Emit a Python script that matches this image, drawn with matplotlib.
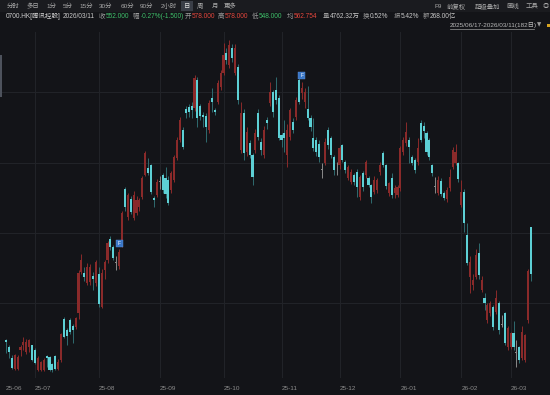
import matplotlib
matplotlib.use("Agg")
import matplotlib.pyplot as plt
from matplotlib.patches import Rectangle
from matplotlib.transforms import blended_transform_factory

plt.rcParams['font.family'] = ['Liberation Sans', 'Noto Sans CJK SC', 'DejaVu Sans']

# 0700.HK daily bars, 2025/06/17 - 2026/03/11 (182 days)
opens = [515.5, 511.5, 505.5, 499.5, 499.5, 510, 512.5, 509, 511.5, 512.5,
         510, 499, 499, 499, 506.5, 506, 502, 506.5, 499.5, 504.5,
         527, 521, 526.5, 523.5, 522.5, 530.5, 553, 552.5, 547, 547.5,
         551, 547, 552, 534, 554.2, 559.7, 571.3, 566.9, 558, 556.4,
         569.5, 599, 583.5, 593.5, 583, 586, 589, 594.6, 606.7, 610.6,
         612.3, 594, 595.7, 603, 606.7, 605, 604, 598.4, 604, 616.1,
         626.1, 631.6, 643, 644.3, 645, 643.8, 659, 644.9, 640, 639.4,
         631.6, 649.3, 642.7, 647.1, 655.4, 663.1, 674.2, 667.6, 677, 663.1,
         666.4, 620.6, 641, 619.4, 624.4, 617.8, 620.6, 641, 625, 617.8,
         637.1, 646.5, 652.6, 653.7, 649.3, 628.8, 629.9, 617.8, 627.7, 636,
         638.8, 659.3, 652.1, 647.1, 643.2, 638.2, 627.2, 626.1, 624, 609.5,
         613.4, 631.6, 627.2, 616.7, 612, 612.3, 623.3, 613.9, 605.1, 602.9,
         606.7, 608.4, 594.6, 607.8, 606.7, 605.1, 601.2, 597.3, 598.4, 608.4,
         618.9, 612.3, 596.8, 605.1, 596.8, 595.7, 599.5, 619.4, 624.4, 626.1,
         616.7, 615, 613.9, 635.5, 633.8, 629.9, 626.1, 612.3, 600, 596.8,
         603.5, 596.8, 593.5, 599.5, 611.2, 613.4, 613.4, 590.1, 597.3, 573.5,
         550.3, 545.9, 550.3, 563.6, 543.1, 538.7, 526.5, 530.4, 533.8, 531,
         536, 524, 530.4, 511.6, 511.6, 519.4, 508.3, 511.6, 505.5, 504.4,
         526.5, 578]
highs = [516, 512.5, 507, 507.5, 507, 513, 517, 516, 516, 513,
         511, 506.5, 504, 505.5, 507, 506.5, 503, 507, 505, 519.5,
         528, 522, 527.5, 524.5, 528.5, 554, 563, 556, 558, 557.5,
         553, 560, 556, 555, 560, 570, 573, 568, 562, 566,
         587, 600, 597, 595, 598, 595, 594, 606, 620, 616,
         613, 595, 604.5, 606, 608, 611, 606, 609, 618, 628,
         639, 633, 645, 646, 647, 662, 661, 646, 641.5, 641,
         648, 655, 644, 659, 665, 679.7, 677, 681.5, 679, 679,
         668, 647, 643, 633, 626, 619, 632, 643, 627, 634,
         639, 658, 654, 661, 651, 630, 637, 635, 644, 638,
         650, 661, 658, 655, 656, 640, 638, 628, 626, 613.4,
         627, 633, 628.5, 618, 614, 623, 624, 615, 612.5, 610,
         608, 610, 607, 609, 615, 606, 602, 606, 605, 614,
         620, 613, 603, 608, 601, 601, 623, 628, 636, 628,
         618, 616, 627, 637, 636, 631, 627, 613, 605.6, 606,
         605, 598, 600, 610, 622, 624, 614, 604, 599, 580,
         562, 552, 566, 569, 551, 541.5, 536, 537, 535, 543,
         537, 529.3, 531, 523, 520, 526, 515.5, 512, 523, 519,
         554.5, 578]
lows = [508.5, 505.5, 499.5, 499, 499, 506.5, 510, 508, 509, 504,
        502, 498.5, 498.5, 498.5, 500.5, 498.5, 498, 499, 499, 503.5,
        516.5, 512.5, 519, 514, 521.5, 527, 552, 548, 546, 546,
        543, 545.5, 534, 533, 549.5, 558, 565, 560, 554, 555,
        567, 587, 582, 585, 582, 584.5, 587, 593.5, 606, 606.5,
        596, 589, 594.5, 599, 597, 594, 590, 597, 603, 615,
        625, 621, 638, 639, 638, 642, 633, 637, 633, 625,
        630, 641.5, 640, 646, 654, 662, 668, 666, 669, 662,
        646, 619, 615, 617, 616, 601.2, 619, 626, 618, 616,
        632, 645, 639, 646, 626, 622, 619.5, 611, 626, 630,
        637, 646, 649, 644, 637, 631, 620, 617, 614, 605.1,
        612, 621, 616, 607, 607, 610, 614, 608, 604, 601.5,
        601, 594.6, 593, 598, 605, 600, 591.3, 596, 597, 607,
        611, 599, 595, 594, 594, 594.5, 598, 618, 623, 613.4,
        612, 608, 612.5, 625, 627, 618, 615, 606, 596.8, 595.5,
        595, 593, 592, 598, 610, 612, 603, 589, 575, 557,
        541.5, 543, 549, 549, 542, 532, 525, 529, 521, 530,
        519, 522.7, 513, 510, 510.5, 510, 500.5, 503, 504.5, 503.5,
        525, 548]
closes = [514.5, 509, 500, 507, 506, 511.5, 514.5, 514.5, 515.5, 504.5,
          503, 505.5, 503.5, 504.5, 505.5, 499, 499, 499.5, 503.5, 518.8,
          517, 517.5, 520, 521, 527.5, 552.5, 559.7, 550.3, 556, 556,
          549.2, 558.6, 535.4, 552.5, 558.6, 569.1, 566.9, 560.8, 558, 564.1,
          585.5, 589, 595.7, 586.3, 595.7, 593, 592.9, 605.1, 618.9, 607.8,
          597.3, 592.9, 602.9, 603, 598.4, 596, 591.3, 607.8, 616.7, 626.1,
          637.1, 622.2, 641, 641.6, 642.7, 660.4, 638, 639.4, 638.8, 633.3,
          646.5, 647.1, 641.6, 657.6, 663.1, 673.1, 670.3, 678.6, 671.4, 677,
          648.2, 641, 618.9, 630.5, 617.8, 605.6, 629.9, 627.7, 620.6, 631.6,
          635.5, 652.6, 641.6, 648.2, 627.2, 626.1, 627.2, 631.6, 642.7, 631.6,
          648.2, 647.1, 654.8, 652.6, 638.2, 633.3, 621.7, 619.4, 616.7, 609.5,
          625, 623.3, 617.8, 609.5, 612, 621.7, 615, 609.5, 611.2, 608.4,
          602.9, 600.1, 605.6, 600.1, 613.9, 601.2, 594.6, 604, 604, 612.3,
          612.3, 600.6, 602.3, 595.7, 599.5, 600.1, 621.7, 626.1, 630.5, 622.2,
          613.4, 609.5, 621.7, 626.1, 631, 619.4, 616.7, 607.8, 600, 604,
          596.2, 594, 598.4, 605.6, 620.6, 619.4, 604.5, 597.3, 580.2, 558.1,
          558.6, 548.7, 562.5, 551.4, 548.7, 536, 534.9, 536, 522.7, 538.7,
          521, 524, 513.8, 522.1, 519.4, 511.6, 508.3, 504.4, 519.9, 518.3,
          553.5, 552]

month_starts = [0, 10, 32, 53, 75, 95, 115, 136, 157, 174]
month_labels = ['25-06', '25-07', '25-08', '25-09', '25-10',
                '25-11', '25-12', '26-01', '26-02', '26-03']
grid_prices = [652.6, 613.4, 574.7, 536.0]
flag_idx = [39, 102]
flag_price = [568.7, 661.5]

BG = '#131418'
BAR_BG = '#1a1b1f'
UP = '#8a2a2a'
DOWN = '#5dd0d5'
DOWN_WICK = '#2f6b6f'
FLAT = '#8a8a8a'
GRID = '#222429'
LABEL = '#9a9a9a'
GREEN = '#3fbf6a'
RED = '#e5473d'
FS = 4.7

W, H = 550, 395
fig = plt.figure(figsize=(W / 100, H / 100), dpi=100, facecolor=BG)


def fx(x):
    return x / W


def fy(y):
    return 1 - y / H


# top toolbar strip
fig.add_artist(Rectangle((0, fy(12)), 1, 12 / H, transform=fig.transFigure,
                         facecolor=BAR_BG, edgecolor='none'))
fig.add_artist(Rectangle((fx(181), fy(11)), 12 / W, 10 / H, transform=fig.transFigure,
                         facecolor='#3a3e47', edgecolor='none'))

tool_items = ['分时', '多日', '1分', '5分', '15分', '30分', '60分', '90分',
              '2小时', '日', '周', '月', '更多']
tool_x = [13, 32.5, 51, 67.5, 86, 106, 127, 147, 169, 187, 200, 215, 230]
for t, x in zip(tool_items, tool_x):
    fig.text(fx(x), fy(6.3), t, fontsize=4.6, color='#a8a8a8' if t != '日' else '#e0e0e0',
             ha='center', va='center')

right_items = ['F9', '前复权', '超级叠加', '画线', '工具', '◎']
right_x = [438.5, 456.5, 487.5, 512.5, 532, 546]
for t, x in zip(right_items, right_x):
    fig.text(fx(x), fy(6.3), t, fontsize=4.6, color='#a8a8a8', ha='center', va='center')

# quote line
quote = [(6, '0700.HK[腾讯控股]', '#d0d0d0'), (63, '2026/03/11', '#c8c8c8'),
         (99, '收', LABEL), (106, '552.000', GREEN),
         (133, '幅', LABEL), (141, '-0.27%(-1.500)', GREEN),
         (185, '开', LABEL), (192, '578.000', RED),
         (218, '高', LABEL), (225, '578.000', RED),
         (252, '低', LABEL), (259, '548.000', GREEN),
         (287, '均', LABEL), (294, '562.754', RED),
         (323, '量', LABEL), (330, '4762.32万', '#c8c8c8'),
         (363, '换', LABEL), (370, '0.52%', '#c8c8c8'),
         (394, '振', LABEL), (401, '5.42%', '#c8c8c8'),
         (423, '额', LABEL), (430, '268.00亿', '#c8c8c8')]
for x, t, c in quote:
    fig.text(fx(x), fy(16.3), t, fontsize=FS, color=c, ha='left', va='center')

fig.text(fx(450), fy(25), '2025/06/17-2026/03/11(182日)', fontsize=4.6,
         color='#b8b8b8', ha='left', va='center')
fig.add_artist(plt.Line2D([fx(450), fx(534)], [fy(28.5), fy(28.5)],
                          transform=fig.transFigure, color='#9a9a9a', lw=0.5))
fig.text(fx(539.5), fy(25), '▼', fontsize=4, color='#9a9a9a', ha='center', va='center',
         family='DejaVu Sans')
fig.add_artist(Rectangle((fx(547), fy(27)), 3 / W, 3 / H, transform=fig.transFigure,
                         facecolor='#d9a520', edgecolor='none'))

# chart area
ax = fig.add_axes([0, fy(378), 1, (378 - 32) / H])
ax.set_xlim(-6 / 2.9, 544 / 2.9)
ax.set_ylim(494.5, 685.8)
ax.axis('off')

for p in grid_prices:
    ax.axhline(p, color=GRID, lw=0.7, zorder=0)
for m in month_starts[1:]:
    ax.axvline(m, color=GRID, lw=0.7, zorder=0)

for i, (o, h, l, c) in enumerate(zip(opens, highs, lows, closes)):
    if c > o:
        body, wick = UP, UP
    elif c < o:
        body, wick = DOWN, DOWN_WICK
    else:
        body, wick = FLAT, FLAT
    ax.vlines(i, l, h, color=wick, lw=0.7, zorder=2)
    ax.bar(i, max(abs(c - o), 0.4), bottom=min(o, c), width=0.72,
           color=body, linewidth=0, zorder=3)

for i, p in zip(flag_idx, flag_price):
    ax.add_patch(Rectangle((i - 1.2, p - 1.95), 2.4, 3.9, facecolor='#3a76c6',
                           edgecolor='#5b8fd6', lw=0.3, zorder=4))
    ax.text(i, p, 'F', fontsize=3.5, color='white', ha='center', va='center', zorder=5)

trans = blended_transform_factory(ax.transData, ax.transAxes)
for m, lab in zip(month_starts, month_labels):
    ax.text(m, -0.029, lab, transform=trans, fontsize=4.6, color='#8c8c8c',
            ha='left', va='center', clip_on=False)

# scroll strip on the left edge
fig.add_artist(Rectangle((0, fy(97)), 2 / W, 42 / H, transform=fig.transFigure,
                         facecolor='#4d525c', edgecolor='none'))

fig.savefig('out.png', dpi=100, facecolor=BG)
